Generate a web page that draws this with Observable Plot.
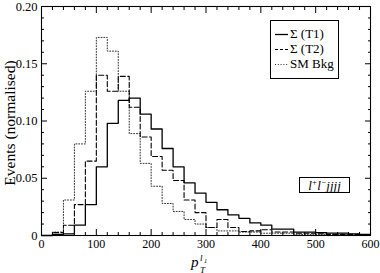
<!DOCTYPE html>
<html><head><meta charset="utf-8">
<script src="https://cdn.jsdelivr.net/npm/d3@7"></script>
<script src="https://cdn.jsdelivr.net/npm/@observablehq/plot@0.6"></script>
<style>
body{margin:0;background:#fff;}
#wrap{position:relative;width:380px;height:273px;font-family:"Liberation Serif","Times New Roman",Tinos,"DejaVu Serif",serif;color:#000;}
#wrap svg.plot{position:absolute;left:0;top:0;}
#legend{position:absolute;left:270px;top:20px;width:69px;height:59px;border:1px solid #000;background:#fff;box-sizing:border-box;font-size:13px;}
#legend .row{position:absolute;left:0;height:14px;line-height:14px;white-space:nowrap;}
#legend svg{position:absolute;left:4px;top:6px;}
#legend span{position:absolute;left:19px;top:0;}
#tag{position:absolute;left:299px;top:177px;width:51px;height:16px;border:1px solid #000;box-sizing:border-box;font-size:13px;font-style:italic;text-align:center;line-height:15px;background:#fff;}
#tag sup{font-size:8px;vertical-align:5px;line-height:0;}
#over{position:absolute;left:0;top:0;pointer-events:none;}
</style></head><body><div id="wrap"></div>
<script>
// ---- data ----
const binStarts = [0,20,40,60,80,100,120,140,160,180,200,220,240,260,280,300,320,340,360,380,400,420,440,460,480,500,520,540,560,580];
const binEnd = 600;
const seriesNames = ["Σ (T1)", "Σ (T2)", "SM Bkg"];
const t1 = [0,0.001,0.0015,0.009,0.027,0.060,0.098,0.118,0.120,0.106,0.093,0.076,0.060,0.046,0.037,0.029,0.0225,0.018,0.015,0.011,0.009,0.0055,0.0055,0.003,0.003,0.0025,0.002,0.002,0.0015,0.001];
const t2 = [0,0.0025,0.009,0.027,0.065,0.140,0.126,0.139,0.112,0.086,0.069,0.057,0.048,0.031,0.020,0.007,0.014,0.007,0.0035,0.004,0.005,0.003,0.003,0.002,0.002,0.0015,0.001,0.001,0.001,0.0005];
const bkg = [0,0.003,0.031,0.080,0.126,0.173,0.161,0.126,0.089,0.063,0.043,0.028,0.021,0.014,0.010,0.007,0.004,0.004,0.003,0.003,0.002,0.002,0.002,0.001,0.001,0.001,0.001,0.001,0.0005,0.0005];
const xTicks = [0,100,200,300,400,500,600];
const xMinor = [20,40,60,80,120,140,160,180,220,240,260,280,320,340,360,380,420,440,460,480,520,540,560,580];
const yTicks = [0,0.05,0.10,0.15,0.20];
const yTickLabels = ["0","0.05","0.10","0.15","0.20"];
const yMinor = [0.01,0.02,0.03,0.04,0.06,0.07,0.08,0.09,0.11,0.12,0.13,0.14,0.16,0.17,0.18,0.19];

function steps(vals){
  const pts = binStarts.map((x,i)=>({x, y: vals[i]}));
  pts.push({x: binEnd, y: vals[vals.length-1]});
  return pts;
}

const FONT = '"Liberation Serif", "Times New Roman", Tinos, "DejaVu Serif", serif';
const chart = Plot.plot({
  width: 380, height: 273,
  marginLeft: 41, marginRight: 10, marginTop: 6, marginBottom: 38,
  style: {fontFamily: FONT, fontSize: "12.5px", background: "white", color: "black"},
  x: {domain: [0, 600]},
  y: {domain: [0, 0.2]},
  marks: [
    Plot.line(steps(bkg), {x: "x", y: "y", curve: "step-after", stroke: "#333", strokeWidth: 1, strokeDasharray: "1,1.8"}),
    Plot.line(steps(t2), {x: "x", y: "y", curve: "step-after", stroke: "#000", strokeWidth: 1.1, strokeDasharray: "5,2.5"}),
    Plot.line(steps(t1), {x: "x", y: "y", curve: "step-after", stroke: "#000", strokeWidth: 1.3}),
    Plot.axisX(xMinor, {anchor: "bottom", tickSize: -3, text: null, label: null}),
    Plot.axisX(xTicks, {anchor: "bottom", tickSize: -6, text: null, label: null}),
    Plot.axisX(xTicks, {anchor: "bottom", tickSize: 0, tickPadding: 4, fontSize: 12, label: null, tickFormat: d => String(d)}),
    Plot.axisX(xMinor, {anchor: "top", tickSize: -3, text: null, label: null}),
    Plot.axisX(xTicks, {anchor: "top", tickSize: -6, text: null, label: null}),
    Plot.axisY(yMinor, {anchor: "left", tickSize: -3, text: null, label: null}),
    Plot.axisY(yTicks, {anchor: "left", tickSize: -6, text: null, label: null}),
    Plot.axisY(yTicks, {anchor: "left", tickSize: 0, tickPadding: 4, label: null, tickFormat: (d,i) => yTickLabels[i]}),
    Plot.axisY(yMinor, {anchor: "right", tickSize: -3, text: null, label: null}),
    Plot.axisY(yTicks, {anchor: "right", tickSize: -6, text: null, label: null}),
    Plot.frame({stroke: "#000", strokeWidth: 1.1})
  ]
});
chart.classList.add("plot");
const wrap = document.getElementById("wrap");
wrap.appendChild(chart);

// axis titles
const ns = "http://www.w3.org/2000/svg";
const over = document.createElementNS(ns, "svg");
over.setAttribute("id", "over");
over.setAttribute("width", 380); over.setAttribute("height", 273);
over.innerHTML = `
<g font-family='${FONT}'>
<text transform="translate(15,123) rotate(-90)" text-anchor="middle" font-size="15.5">Events (normalised)</text>
<text font-style="italic"><tspan x="191" y="267" font-size="15">p</tspan><tspan x="200" y="272.5" font-size="9">T</tspan><tspan x="200" y="260.5" font-size="9">l</tspan><tspan x="204" y="263" font-size="6.5">1</tspan></text>
</g>`;
wrap.appendChild(over);

// legend
const legend = document.createElement("div");
legend.id = "legend";
const styles = [
  {w: 1.3, dash: null, c: "#000"},
  {w: 1.1, dash: "3,2", c: "#000"},
  {w: 1, dash: "1,1.8", c: "#333"}
];
const tops = [6, 21, 36];
seriesNames.forEach((name, i) => {
  const row = document.createElement("div");
  row.className = "row";
  row.style.top = tops[i] + "px";
  const s = styles[i];
  row.innerHTML = `<svg width="13" height="3"><line x1="0" y1="1.5" x2="13" y2="1.5" stroke="${s.c}" stroke-width="${s.w}" ${s.dash ? `stroke-dasharray="${s.dash}"` : ""}/></svg><span>${name}</span>`;
  legend.appendChild(row);
});
wrap.appendChild(legend);

const tag = document.createElement("div");
tag.id = "tag";
tag.innerHTML = "l<sup>+</sup>l<sup>−</sup>jjjj";
wrap.appendChild(tag);
</script>
</body></html>
